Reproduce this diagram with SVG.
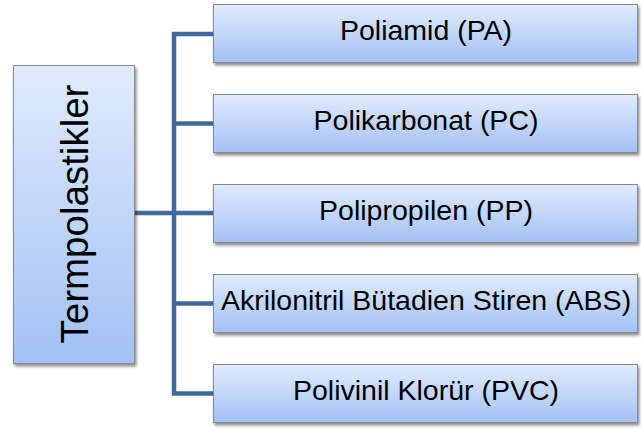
<svg xmlns="http://www.w3.org/2000/svg" width="641" height="430" viewBox="0 0 641 430">
<defs>
<linearGradient id="g" x1="0" y1="0" x2="0" y2="1">
<stop offset="0" stop-color="#E1EBFD"/>
<stop offset="1" stop-color="#A3C1F5"/>
</linearGradient>
<filter id="sh" x="-10%" y="-10%" width="120%" height="130%">
<feDropShadow dx="1.5" dy="2.5" stdDeviation="1.5" flood-color="#000" flood-opacity="0.45"/>
</filter>
<style>
.box{fill:url(#g);stroke:#8A8A8A;stroke-width:1;filter:url(#sh)}
.lbl{font-family:"Liberation Sans",Arial,sans-serif;font-size:28.5px;fill:#000;text-anchor:middle}
.title{font-family:"Liberation Sans",Arial,sans-serif;font-size:38.5px;fill:#000;text-anchor:middle}
.conn{fill:none;stroke:#41689B;stroke-width:4.5}
</style>
</defs>
<rect width="641" height="430" fill="#fff"/>
<g id="connectors">
<path class="conn" d="M133,213 H174"/>
<path class="conn" d="M214,34 H174 V393.5 H214"/>
<path class="conn" d="M174,123.5 H214"/>
<path class="conn" d="M174,213 H214"/>
<path class="conn" d="M174,303.5 H214"/>
</g>
<g id="termpolastikler">
<rect class="box" x="13.5" y="65.5" width="121" height="298"/>
<text class="title" transform="translate(88,214) rotate(-90)">Termpolastikler</text>
</g>
<g id="pa">
<rect class="box" x="213.5" y="4.5" width="424" height="58"/>
<text class="lbl" x="426" y="40">Poliamid (PA)</text>
</g>
<g id="pc">
<rect class="box" x="213.5" y="94.5" width="424" height="58"/>
<text class="lbl" x="426" y="130">Polikarbonat (PC)</text>
</g>
<g id="pp">
<rect class="box" x="213.5" y="184.5" width="424" height="58"/>
<text class="lbl" x="426" y="220">Polipropilen (PP)</text>
</g>
<g id="abs">
<rect class="box" x="213.5" y="274.5" width="424" height="58"/>
<text class="lbl" x="426" y="310">Akrilonitril Bütadien Stiren (ABS)</text>
</g>
<g id="pvc">
<rect class="box" x="213.5" y="364.5" width="424" height="58"/>
<text class="lbl" x="426" y="400">Polivinil Klorür (PVC)</text>
</g>
</svg>
